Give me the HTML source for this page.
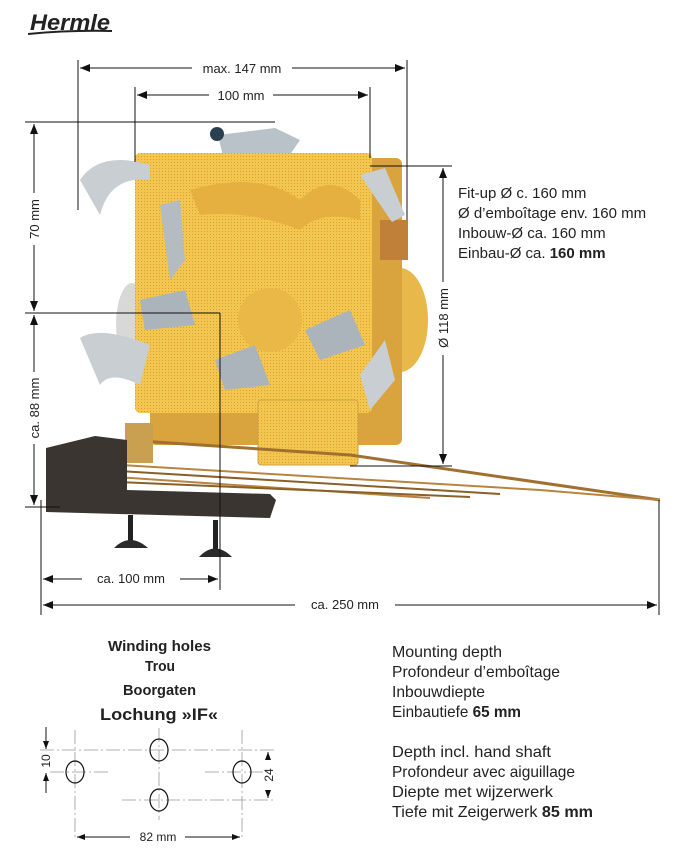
<!DOCTYPE html>
<html><head><meta charset="utf-8"><style>
html,body{margin:0;padding:0;background:#fff;}
svg{display:block;}
text{font-family:"Liberation Sans",sans-serif;fill:#222;}
</style></head><body>
<svg width="676" height="867" viewBox="0 0 676 867" xmlns="http://www.w3.org/2000/svg">
<defs>
<marker id="a" markerWidth="10" markerHeight="8" refX="10" refY="4" orient="auto" markerUnits="userSpaceOnUse"><path d="M0,0 L10,4 L0,8 Z" fill="#111"/></marker>
<marker id="b" markerWidth="10" markerHeight="8" refX="0" refY="4" orient="auto" markerUnits="userSpaceOnUse"><path d="M10,0 L0,4 L10,8 Z" fill="#111"/></marker>
<marker id="sa" markerWidth="8" markerHeight="6" refX="8" refY="3" orient="auto" markerUnits="userSpaceOnUse"><path d="M0,0 L8,3 L0,6 Z" fill="#111"/></marker>
<marker id="sb" markerWidth="8" markerHeight="6" refX="0" refY="3" orient="auto" markerUnits="userSpaceOnUse"><path d="M8,0 L0,3 L8,6 Z" fill="#111"/></marker>
<pattern id="dots" width="3" height="3" patternUnits="userSpaceOnUse"><rect width="3" height="3" fill="#f3c650"/><rect width="1" height="1" fill="#d9a030"/></pattern>
</defs>

<!-- logo -->
<text x="30" y="30" font-family="Liberation Serif,serif" font-style="italic" font-weight="bold" font-size="22" textLength="80" lengthAdjust="spacingAndGlyphs" style="fill:#222">Hermle</text>
<path d="M28,34 Q70,30 112,31" stroke="#222" stroke-width="2" fill="none"/>

<!-- movement photo approximation -->
<ellipse cx="400" cy="320" rx="28" ry="52" fill="#e8b84a"/>
<ellipse cx="132" cy="325" rx="16" ry="42" fill="#d8d8d8"/>
<rect x="150" y="158" width="252" height="287" rx="6" fill="#d9a43e"/>
<rect x="380" y="220" width="28" height="40" fill="#c0803a"/>
<path d="M218,135 L275,128 L300,140 L285,162 L225,165 Z" fill="#b8c2c8"/>
<circle cx="217" cy="134" r="7" fill="#2a4050"/>
<rect x="135" y="153" width="237" height="260" rx="5" fill="url(#dots)"/>
<rect x="258" y="400" width="100" height="65" rx="3" fill="url(#dots)" stroke="#d0a040"/>
<path d="M190,190 Q260,170 300,200 Q330,170 360,200 L360,220 Q320,210 300,230 Q250,210 200,215 Z" fill="#e6b040"/>
<circle cx="270" cy="320" r="32" fill="#eab847"/>
<path d="M80,180 Q100,150 150,165 L150,180 Q110,175 100,215 Z" fill="#c8ced2"/>
<path d="M360,175 L385,168 L405,215 L392,222 Z" fill="#c8ced2"/>
<path d="M80,338 Q100,325 150,345 L140,385 Q110,370 100,385 Z" fill="#c8ced2"/>
<path d="M360,375 L385,340 L395,380 L370,410 Z" fill="#c8ced2"/>
<path d="M140,300 L185,290 L195,325 L145,330 Z" fill="#aab4ba"/>
<path d="M215,360 L255,345 L270,385 L225,390 Z" fill="#aab4ba"/>
<path d="M305,330 L350,310 L365,345 L320,360 Z" fill="#aab4ba"/>
<path d="M160,205 L180,200 L185,260 L170,280 Z" fill="#b4bcc2"/>
<!-- rods -->
<path d="M125,440 L350,455 L660,500" stroke="#a07030" stroke-width="3" fill="none"/>
<path d="M70,462 L540,490 L660,500" stroke="#b88440" stroke-width="2" fill="none"/>
<path d="M70,468 L500,494" stroke="#8a6028" stroke-width="2" fill="none"/>
<path d="M70,474 L430,498" stroke="#b88440" stroke-width="2" fill="none"/>
<path d="M70,480 L470,497" stroke="#8a6028" stroke-width="2" fill="none"/>
<rect x="125" y="423" width="28" height="40" fill="#c9a050"/>
<!-- base -->
<path d="M46,448 L95,436 L127,440 L127,490 L270,494 L276,500 L270,518 L46,512 Z" fill="#3a3530"/>
<rect x="128" y="515" width="5" height="30" fill="#222"/>
<rect x="213" y="520" width="5" height="30" fill="#222"/>
<path d="M114,548 Q130,532 148,548 Z" fill="#2a2a2a"/>
<path d="M199,557 Q215,540 232,557 Z" fill="#2a2a2a"/>

<!-- dimension lines -->
<g stroke="#111" stroke-width="1" fill="none">
<line x1="78" y1="60" x2="78" y2="210"/>
<line x1="407" y1="60" x2="407" y2="220"/>
<line x1="80" y1="68" x2="192" y2="68" marker-start="url(#b)"/>
<line x1="292" y1="68" x2="405" y2="68" marker-end="url(#a)"/>
<line x1="135" y1="87" x2="135" y2="162"/>
<line x1="370" y1="87" x2="370" y2="158"/>
<line x1="137" y1="95" x2="209" y2="95" marker-start="url(#b)"/>
<line x1="273" y1="95" x2="368" y2="95" marker-end="url(#a)"/>
<line x1="25" y1="122" x2="275" y2="122"/>
<line x1="25" y1="313" x2="220" y2="313"/>
<line x1="220" y1="313" x2="220" y2="590"/>
<line x1="34" y1="124" x2="34" y2="193" marker-start="url(#b)"/>
<line x1="34" y1="245" x2="34" y2="311" marker-end="url(#a)"/>
<line x1="34" y1="315" x2="34" y2="372" marker-start="url(#b)"/>
<line x1="34" y1="444" x2="34" y2="505" marker-end="url(#a)"/>
<line x1="25" y1="507" x2="60" y2="507"/>
<line x1="370" y1="166" x2="452" y2="166"/>
<line x1="350" y1="466" x2="452" y2="466"/>
<line x1="443" y1="168" x2="443" y2="282" marker-start="url(#b)"/>
<line x1="443" y1="355" x2="443" y2="464" marker-end="url(#a)"/>
<line x1="41" y1="500" x2="41" y2="615"/>
<line x1="659" y1="500" x2="659" y2="615"/>
<line x1="43" y1="579" x2="82" y2="579" marker-start="url(#b)"/>
<line x1="180" y1="579" x2="218" y2="579" marker-end="url(#a)"/>
<line x1="43" y1="605" x2="295" y2="605" marker-start="url(#b)"/>
<line x1="395" y1="605" x2="657" y2="605" marker-end="url(#a)"/>
</g>
<text x="242" y="73" font-size="13" text-anchor="middle">max. 147 mm</text>
<text x="241" y="100" font-size="13" text-anchor="middle">100 mm</text>
<text x="0" y="0" font-size="13" text-anchor="middle" transform="translate(39,219) rotate(-90)">70 mm</text>
<text x="0" y="0" font-size="13" text-anchor="middle" transform="translate(39,408) rotate(-90)">ca. 88 mm</text>
<text x="0" y="0" font-size="13" text-anchor="middle" transform="translate(448,318) rotate(-90)">Ø 118 mm</text>
<text x="131" y="583" font-size="13" text-anchor="middle">ca. 100 mm</text>
<text x="345" y="609" font-size="13" text-anchor="middle">ca. 250 mm</text>

<g font-size="15">
<text x="458" y="198">Fit-up Ø c. 160 mm</text>
<text x="458" y="218">Ø d’emboîtage env. 160 mm</text>
<text x="458" y="238">Inbouw-Ø ca. 160 mm</text>
<text x="458" y="258">Einbau-Ø ca. <tspan font-weight="bold">160 mm</tspan></text>
</g>

<!-- winding holes -->
<g font-weight="bold">
<text x="108" y="651" font-size="15" textLength="103" lengthAdjust="spacingAndGlyphs">Winding holes</text>
<text x="145" y="671" font-size="15" textLength="30" lengthAdjust="spacingAndGlyphs">Trou</text>
<text x="123" y="695" font-size="15" textLength="73" lengthAdjust="spacingAndGlyphs">Boorgaten</text>
<text x="100" y="720" font-size="17" textLength="118" lengthAdjust="spacingAndGlyphs">Lochung »IF«</text>
</g>
<g stroke="#999" stroke-width="0.8" stroke-dasharray="14,3,2,3" fill="none">
<line x1="40" y1="750" x2="275" y2="750"/>
<line x1="50" y1="772" x2="108" y2="772"/>
<line x1="205" y1="772" x2="270" y2="772"/>
<line x1="122" y1="800" x2="275" y2="800"/>
<line x1="75" y1="730" x2="75" y2="840"/>
<line x1="159" y1="728" x2="159" y2="820"/>
<line x1="242" y1="730" x2="242" y2="840"/>
</g>
<g stroke="#111" stroke-width="1.2" fill="none">
<ellipse cx="75" cy="772" rx="9" ry="11"/>
<ellipse cx="159" cy="750" rx="9" ry="11"/>
<ellipse cx="242" cy="772" rx="9" ry="11"/>
<ellipse cx="159" cy="800" rx="9" ry="11"/>
</g>
<g stroke="#111" stroke-width="1" fill="none">
<line x1="46" y1="727" x2="46" y2="749" marker-end="url(#sa)"/>
<line x1="46" y1="793" x2="46" y2="773" marker-end="url(#sa)"/>
<line x1="268" y1="752" x2="268" y2="760" marker-start="url(#sb)"/>
<line x1="268" y1="790" x2="268" y2="798" marker-end="url(#sa)"/>
<line x1="77" y1="837" x2="130" y2="837" marker-start="url(#sb)"/>
<line x1="185" y1="837" x2="240" y2="837" marker-end="url(#sa)"/>
</g>
<text x="0" y="0" font-size="12" text-anchor="middle" transform="translate(50,761) rotate(-90)">10</text>
<text x="0" y="0" font-size="12" text-anchor="middle" transform="translate(273,775) rotate(-90)">24</text>
<text x="158" y="841" font-size="12" text-anchor="middle">82 mm</text>

<g font-size="16">
<text x="392" y="657" textLength="110" lengthAdjust="spacingAndGlyphs">Mounting depth</text>
<text x="392" y="677" textLength="168" lengthAdjust="spacingAndGlyphs">Profondeur d’emboîtage</text>
<text x="392" y="697" textLength="93" lengthAdjust="spacingAndGlyphs">Inbouwdiepte</text>
<text x="392" y="717" textLength="129" lengthAdjust="spacingAndGlyphs">Einbautiefe <tspan font-weight="bold">65 mm</tspan></text>
<text x="392" y="757" textLength="159" lengthAdjust="spacingAndGlyphs">Depth incl. hand shaft</text>
<text x="392" y="777" textLength="183" lengthAdjust="spacingAndGlyphs">Profondeur avec aiguillage</text>
<text x="392" y="797" textLength="161" lengthAdjust="spacingAndGlyphs">Diepte met wijzerwerk</text>
<text x="392" y="817" textLength="201" lengthAdjust="spacingAndGlyphs">Tiefe mit Zeigerwerk <tspan font-weight="bold">85 mm</tspan></text>
</g>
</svg>
</body></html>
